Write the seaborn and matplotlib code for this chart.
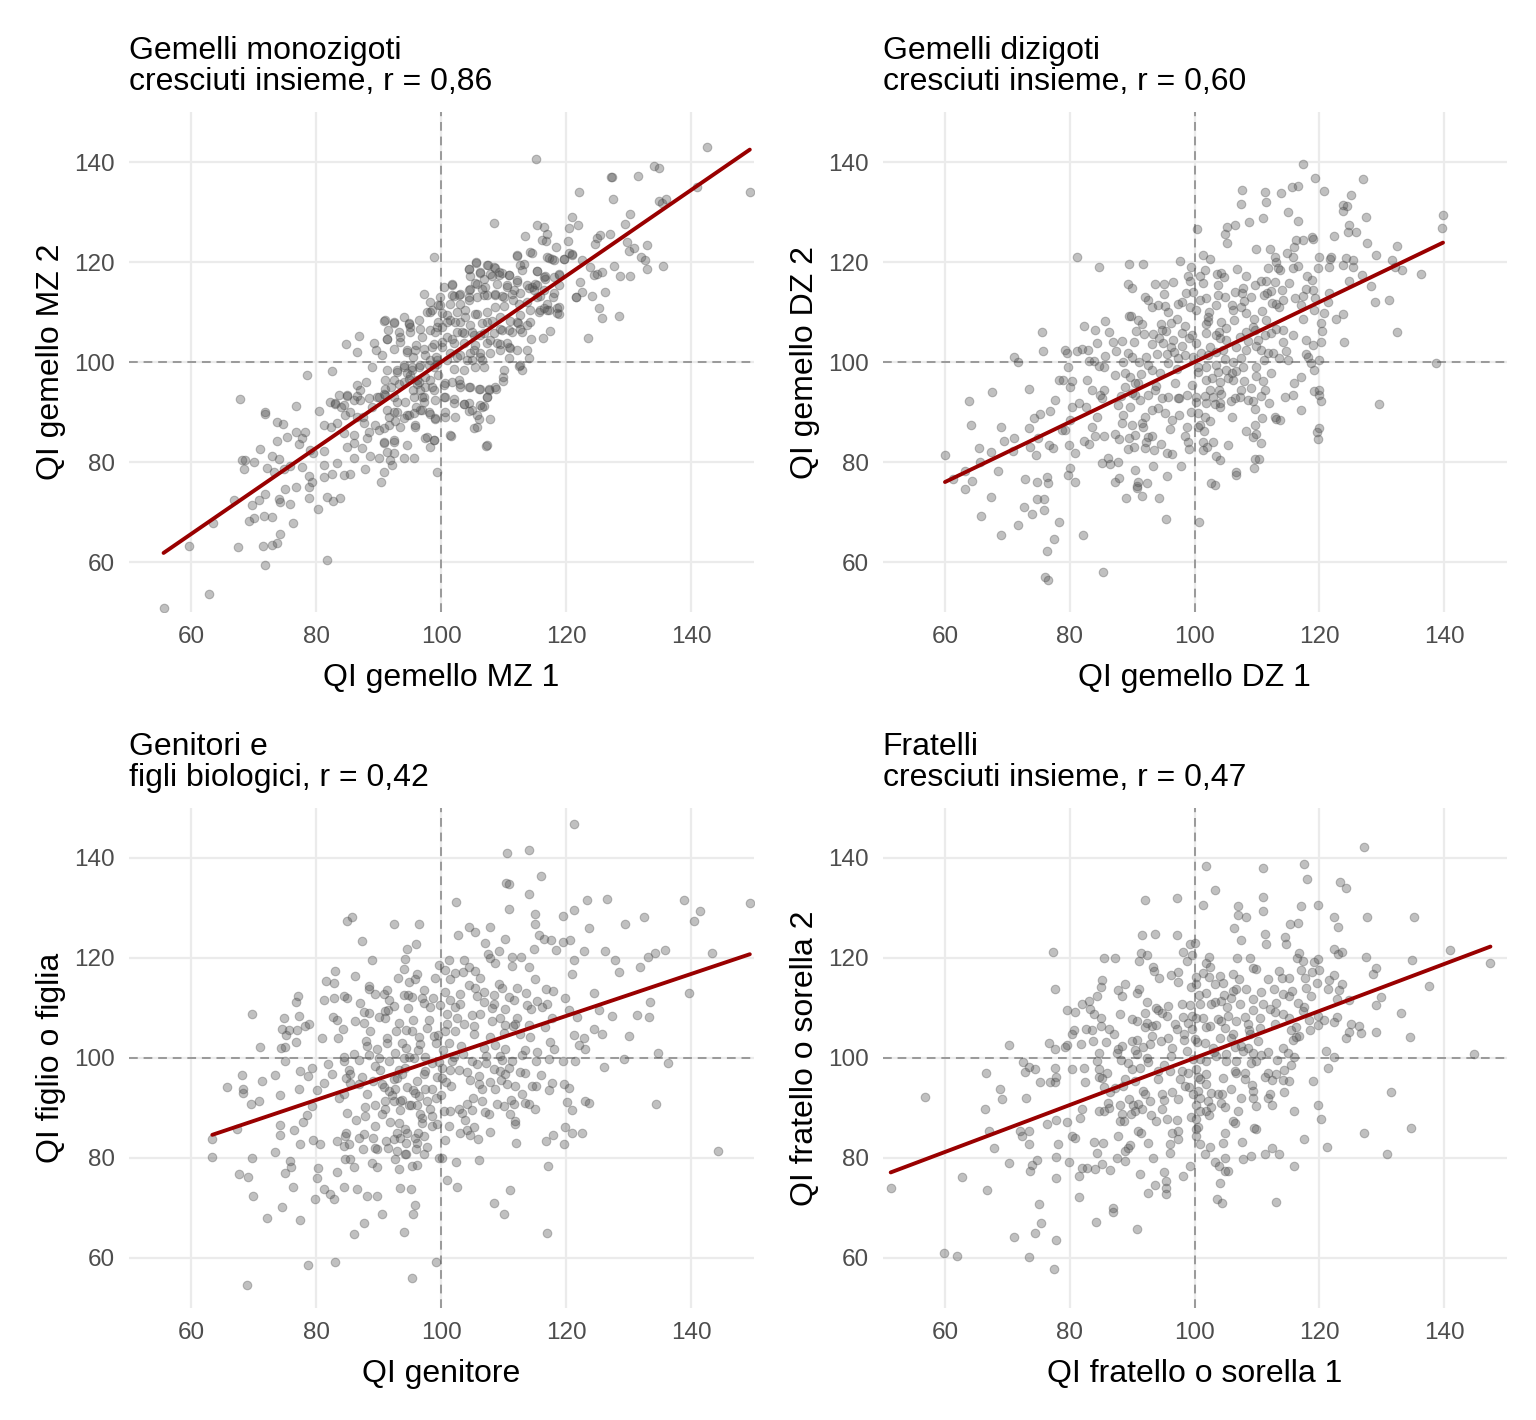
import numpy as np
import matplotlib
matplotlib.use("Agg")
import matplotlib.pyplot as plt
import seaborn as sns

sns.set_theme(style="white")
plt.rcParams['font.family'] = ['Liberation Sans', 'DejaVu Sans']

# titoli, etichette e correlazioni dei quattro pannelli
titles = ["Gemelli monozigoti\ncresciuti insieme, r = 0,86",
          "Gemelli dizigoti\ncresciuti insieme, r = 0,60",
          "Genitori e\nfigli biologici, r = 0,42",
          "Fratelli\ncresciuti insieme, r = 0,47"]
x_labels = ["QI gemello MZ 1", "QI gemello DZ 1", "QI genitore", "QI fratello o sorella 1"]
y_labels = ["QI gemello MZ 2", "QI gemello DZ 2", "QI figlio o figlia", "QI fratello o sorella 2"]
r_values = [0.86, 0.60, 0.42, 0.47]
ticks = [60, 80, 100, 120, 140]

# punti (QI 1, QI 2)
mz_pts = [
    (98.9,121.1),(97.2,113.7),(90.8,108.3),(92.4,107.8),(93.3,106.1),(94.9,107.9),(86.8,105.3),(84.8,103.7),(86.5,102),
    (89.2,103.8),(89.6,102.5),(91.4,104.7),(78.6,97.4),(82.6,98.3),(67.8,92.6),(71.8,90),(71.8,89.6),(76.8,91.3),(80.4,90.3),
    (73.7,88),(74.7,87.7),(75.4,85),(76.8,86.1),(77.8,84.8),(78.2,86),(73.8,84.3),(77.3,83.7),(71,82.6),(68.1,80.5),(68.6,80.5),
    (70,80),(68.5,78.7),(73,81.3),(74.1,80.6),(72.1,78.8),(73.3,78),(74.8,78.6),(75.8,79.3),(77.7,79.1),(79.1,82.5),(79.5,81.8),
    (81.2,82.3),(81.3,79.5),(83.3,79.8),(81.3,77.1),(82.5,77.7),(78.9,77.3),(79.4,76.1),(78.8,75),(76.8,75),(75,74.6),(71.8,73.6),
    (70.9,72.5),(69.7,71.5),(74.1,72.6),(74.2,72.1),(75.9,71.7),(78.9,72.9),(81.7,73),(82.7,72.3),(83.9,72.8),(80.3,70.7),
    (66.8,72.4),(63.5,67.9),(69.3,68.3),(70.1,68.8),(71.6,69.3),(72.9,69.1),(76.3,67.9),(74.3,65.6),(73.8,63.8),(72.9,63.4),
    (71.5,63.3),(67.5,63.1),(59.6,63.3),(71.9,59.4),(81.8,60.5),(62.9,53.7),(55.6,50.9),
    (83.6,93.5),(82.2,92.1),(83.0,91.8),(84.4,91.5),(84.9,93.3),(86.5,93.3),(87.0,92.5),(88.4,92.8),(89.7,93.1),(91.0,94.6),
    (92.4,96.5),(94.0,99.1),(94.5,97.8),(95.3,98.5),(96.1,96.5),(96.6,94.5),(97.2,93.1),(98.2,96.5),(98.8,99.1),(99.3,100.5),
    (81.3,87.5),(82.4,87.1),(83.3,87.8),(84.6,89.5),(86.5,89.1),(87.6,87.8),(89.4,87.5),(90.8,86.8),(84.4,85.8),(86.0,85.5),
    (84.9,83.1),(86.0,83.8),(87.3,82.9),(88.1,84.8),(90.8,83.9),(92.4,84.1),(94.5,83.5),(86.0,80.9),(88.6,81.3),(90.0,80.9),
    (91.3,82.1),(92.4,81.8),(91.8,80.5),(92.1,79.5),(94.0,80.8),(95.6,80.9),(87.8,78.6),(90.8,78.1),(90.4,76.1),(84.4,77.4),
    (85.5,77.7),(95.8,87.1),(97.4,84.8),(98.8,84.5),(98.2,83.1),(99.3,78.0),(99.0,88.6),(96.9,90.5),(95.6,89.8),(94.0,88.8),
    (92.7,88.3),(91.6,89.0),
    (93.5,104),(94.5,102.5),(95.5,101),(96,103.5),(97,105),(97.5,101.5),(98,99.5),(98.5,103),(99,106),(99.5,108),(96.5,99),
    (95,97.5),(94,96),(93,98.5),(92,95),(91,93.5),(93,92),(95.5,94.5),(96.5,96),(97.5,97),(98.5,95),(99,92.5),(97,93),(96,91),
    (94.5,89.5),(98,90),(99.5,97.5),(99.2,101),(97.8,110),(98.3,112),(96.5,108.5),(95,107),(94,109),(91.5,106.5),(90.5,101.5),
    (89,99),(88,96),(87,94.5),(86,92.5),(86.5,95.5),(85,93.5),(84,91),(83,91.6),(85.5,90),(87.5,89),(89,91),(90,93),(92.5,90),
    (88.5,86),(90,86.5),(98.5,110.5),(99.5,111.5),(99.8,113),
    (142.5,143.1),(115.2,140.6),(134,139.3),(134.8,138.9),(127.2,137.1),(127.3,137),(131.5,137.3),(122.1,134),(127.5,132.6),
    (134.8,132.3),(135.3,131.8),(136,132.6),(140.9,135),(149.4,134.1),(108.5,127.8),(115.3,127.5),(116.4,127.1),(116.9,125.7),
    (113.4,125.3),(116.1,124.5),(116.8,124.3),(118.4,123.1),(120.3,124.3),(120.4,126.8),(121,129),(121.9,127.5),(129.5,127.7),
    (130.3,129.6),(124.9,124.8),(125.4,125.5),(127,125.7),(124.6,123.7),(129.8,124),(130.8,122.9),(130.1,122.3),(133,123.5),
    (132,121),(132.7,120.5),(135.5,119.3),(132.9,118.6),(112.1,121.3),(114.3,122.1),(117.2,120.9),(117.7,120.6),(119.7,120.7),
    (120.5,121.9),(121,121.5),(122.6,120.5),(123.9,119.1),(124.4,117.5),(124.9,117.7),(125.7,118.1),(127.7,119.3),(128.6,117.3),
    (130.3,117.3),(122.2,116.1),(121.6,113.1),(122.5,114),(124.1,113.3),(126.3,114),(125.2,110.9),(125.8,108.8),(128.4,109.3),
    (123.5,104.9),(117.4,106.3),(116.3,104.9),(114.4,104.6),(114.2,108.1),(112.6,109.5),(112.3,107.9),(118.6,110.9),(118.6,109.8),
    (115.7,110.1),(116.5,110.9),(116.9,110.5),(118,113.8),(117.9,113.1),(118.8,115.5),(118.9,117.5),(115.3,118.3),(116.4,117.1),
    (116.6,116.7),(114.5,115.1),(115.3,115.5),(114.1,114.8),(115.8,113.3),(114,100.8),(112.9,98.5),(112.5,99.3),(110,98.5),
    (109.9,96.3),(108.8,94.7),(107.6,94.5),(107.3,93.1),(106.2,94.7),(106.8,91.3),(106.5,91.1),(105.7,89.5),(106.1,88.7),
    (107.9,88.7),(105.3,86.9),(101.6,85.3),(107.2,83.3),(104.5,90.3),(103.6,91.6),(104.4,91.9),(102,91.8),(100.6,90.1),(103.1,95),
    (104.6,95.1),(102.8,96.5),(103.6,98.5),(102,98.6),(100.6,95.9),(100.6,93.1),
    (105.6,119.9),(104.5,118.7),(104.6,117.3),(106.2,117.8),(107.5,119.5),(108.4,119),(109.2,118.1),(109.7,117.9),(110.9,117.5),
    (108.1,117.3),(106.8,116.7),(105.4,115.8),(106.5,114.7),(104.6,114.7),(101.8,115.5),(100.4,115.1),(102.1,113.3),(102.8,113.5),
    (104.5,113.1),(106.8,113.5),(108.6,113.5),(109.7,113.3),(110.5,115.1),(111.6,114.5),(112.6,113.8),(112.9,118.5),(112.6,119.5),
    (112.1,116.5),(111.5,112.5),(110,111.3),(108.6,111.1),(107.3,110.1),(105.4,109.6),(103.8,110.5),(102.5,110.1),(100.9,109.5),
    (101.4,108.5),(103,108.1),(104.6,107.5),(106.5,107.8),(108.1,108.3),(109.4,109),(111,108.3),(112.6,106.6),(111.3,106.1),
    (109.7,106.5),(108.4,105.8),(106.8,105.8),(105.2,105.5),(103.6,105.8),(102.5,106),(100.9,105.1),(102,103.8),(103.6,103.8),
    (105.4,103.5),(107.3,103.8),(108.9,103.8),(110.5,103.8),(111,102.8),(109.4,102.5),(107.8,101.8),(106.2,101.8),(104.6,101.8),
    (103,101.5),(101.4,101.8),(100.1,103.1),(104.9,100.5),(106.5,100.5),(110.8,100.8),(105.4,99),(100.1,109.8),(100.1,107.1),
    (105.6,120.1),(107.4,119.4),(108.6,118.9),(104.5,118.7),(106.2,118.1),(107.8,117.7),(109.2,117.4),(110.8,117.4),(112.1,121.4),
    (114.5,121.9),(117,121.1),(118,120.5),(119.6,120.7),(120.9,121.6),(113.2,119.7),(115.3,118.3),(116.6,117.2),(118,117.1),
    (118.9,117.6),(112.1,116.1),(113.7,115.4),(115,115.7),(114.9,114.5),(116.4,114.5),(115.3,113.1),(113.7,112.1),(112.4,111.7),
    (116.9,111.7),(118.8,111.1),(118.8,109.7),(117.2,110.4),(115.8,110.4),(114.2,110.4),(121.6,113.1),(110.5,115.4),(108.9,115.7),
    (107,115.1),(105.7,115.7),(104.4,114.4),(103,113.7),(101.7,115.7),(101.7,113.4),(99.8,111.4),(98.2,110.1),(101.4,111.7),
    (103,111.7),(104.4,112.4),(105.7,113.1),(107.3,113.4),(108.6,113.7),(110,113.1),(111.3,113.7),(112.1,108.1),(113.7,107.4),
    (112.9,106.1),(110.8,106.4),(109.4,106.7),(107.3,108.1),(105.7,109.7),(103.8,109.1),(102.2,108.1),(100.9,108.1),(99.3,107.1),
    (98.2,106.4),(96.6,106.7),(94.8,107.7),(92.4,108.1),(91,108.4),(95,106.1),(93.4,105.1),(91.3,104.7),(92.4,102.7),(94.5,102.1),
    (95.8,102.4),(97.2,102.7),(98.8,103.7),(100.1,104.1),(101.7,104.7),(103.3,106.1),(104.9,106.1),(106.2,105.4),(107.8,104.4),
    (109.4,103.7),(110.8,103.1),(112.1,102.4),(113.7,102.4),(105.2,102.4),(106.2,101.1),(106.8,99.1),(104.1,100.4),(102.5,101.1),
    (100.9,100.4),(99.3,99.7),(98.2,100.4),(96.6,99.4),(95.3,99.1),(94,99.4),(92.9,98.1),(91.3,98.4),(91,96.4),(93.2,95.7),
    (94.8,96.7),(96.1,95.7),(97.4,95.1),(98.8,94.4),(100.4,95.4),(101.7,96.1),(103,95.7),(104.4,95.1),(106,94.7),(107.6,94.7),
    (108.6,95.1),(109.9,97.1),(112.6,99.4),(100.4,93.1),(102,92.7),(103.6,91.7),(104.9,90.4),(106.2,91.4),(107.3,93.1),(95.6,93.1),
    (94.2,92.1),(97.2,92.1),(92.4,93.1),(90.8,93.7),(91.3,90.4),(92.9,90.1),(94.8,89.4),(96.6,90.4),(98.2,89.7),(99,88.8),
    (100.6,89.1),(102.2,89.1),(91.6,87.4),(93.4,87.1),(95.8,87.4),(97.7,85.1),(92.4,84.4),(90.8,84.1),(98.8,84.4),(101.4,85.4),
    (105.7,87.1),(107.3,83.4),
]

dz_pts = [
    (81.2,121.1),(84.6,119.1),(89.5,119.6),(91.8,119.7),(97.7,120.3),(99.4,119.1),(98.9,117.3),(89.3,115.7),(90,114.8),(93.6,115.6),
    (95.1,115.6),(96.6,116.1),(92.1,113.1),(92.5,112.5),(95.1,113.6),(93.1,111.1),(94.2,111.5),(95.3,111.3),(95.7,110.1),(97.4,111.7),
    (97.9,112.1),(99.3,111.1),(89.5,109.3),(89.8,109.3),(91,108.5),(91.5,107.7),(90.6,106.3),(91.9,105.7),(93.4,105.7),(94.7,106.5),
    (94.6,107.7),(96.2,107.9),(97.1,108.6),(98.5,107.3),(99.1,104.8),(95,103.8),(96.2,103.1),(96.7,102.1),(97.9,103.3),(95.5,101.7),
    (93.9,101.7),(97.4,100.8),(82.3,107.3),(84.1,106.5),(85.6,108.3),(86.2,106.1),(87,104.1),(88.3,104.3),(84.3,103.8),(87.4,102.3),
    (85.7,101.3),(90.3,104.1),(89.4,101.9),(89.9,101.1),(88.6,100.1),(91.1,100.1),(92.6,99.5),(93.1,98.5),(94.4,97.8),(95.8,99.8),
    (75.6,106.1),(75.7,102.2),(71.1,101.1),(71.7,100.1),(79.2,102.5),(79.5,101.8),(79.7,99.1),(81.2,102.3),(81.9,102.6),(82.9,102.5),
    (83.1,100.3),(83.9,100.3),(84.6,99.3),(85.4,99.1),(88.8,97.8),(89.6,97.1),(90.4,95.9),(91,95.9),(82.7,96.5),(83.6,94.5),
    (84.8,93.5),(85.4,94.5),(85.1,92.8),(88.8,95.1),(89.9,93.8),(91.2,92.5),(92.6,93.5),(93.6,94.5),(94.7,92.8),(95.8,93),
    (97.4,92.8),(95.2,89.8),(96.3,88.5),(93.1,90.5),(94.2,90.8),(92,89.1),(91.5,87.8),(91.8,87.1),(90,87.5),(88.6,89.5),
    (88.3,87.8),(89.6,91.1),(87.8,91.5),(78.2,96.5),(78.9,96.5),(80.3,96.3),(80,95),(73.5,94.6),(67.5,94.1),(63.8,92.3),
    (64.1,87.5),(68.9,87),(77.6,92.5),(76.9,90.3),(75.3,89.7),(74.2,88.9),(73.5,86.8),(69.5,84.3),(71.1,84.8),(74.9,84.8),
    (65.5,82.8),(67.3,82.1),(70.9,82.3),(73.6,83.1),(74.6,81.5),(76.7,83.5),(77.3,82.8),(80.3,91),(81.5,91.9),(82.6,91.1),
    (84.3,89.1),(83.5,87),(80,88.5),(78.7,86.5),(79.2,86.5),(79.9,83.5),(80.8,81.9),(82.3,84.3),(83,83.7),(84.1,85.3),
    (85.4,85.3),(87.2,85.7),(87.9,84.6),(89.5,84.8),(90.4,85.5),(92.2,84.1),(92.6,85),(93.1,85.3),(90.3,83.1),(92.1,82.8),
    (93.5,82.5),(94.6,83.7),(95.5,81.9),(96.4,81.7),(89.3,82.7),(60,81.5),(63.2,78.3),(64.4,76.3),(63.2,74.6),(61.3,76.6),
    (65.6,80.1),(68.5,78.3),(67.3,73.1),(65.7,69.3),(69,65.5),(71.7,67.5),(72.7,71),(72.9,76.7),(73.9,69.6),(74.7,76.1),
    (74.8,72.7),(75.9,72.7),(75.9,70.5),(76.4,77),(76.5,75.8),(78.3,68),(77.4,64.6),(76.3,62.3),(76,57.1),(76.5,56.5),
    (79.7,77.5),(80.1,78.8),(80.9,76.1),(82.1,65.5),(85.3,58),(85.1,79.8),(86.4,79.6),(87.7,80.1),(86.1,80.8),(87.2,76),
    (87.9,76.9),(89,72.8),(90.4,78.5),(90.7,75.3),(90.9,76.1),(90.7,74.8),(91.5,73.3),(92.4,75.8),(93.3,79.3),(94.3,72.9),
    (95.5,77.3),(95.4,68.6),(97.8,79.3),(98.7,87.1),(99,84.1),(98.5,85.3),(97.5,92.8),
    (117.4,139.7),(119.3,136.8),(127,136.6),(107.6,134.5),(111.3,134.1),(113.9,133.8),(115.6,135),(116.6,135.3),(120.7,134.2),
    (125.1,133.4),(107.5,131.7),(111.4,132),(123.7,131.4),(124.4,131.3),(123.8,130.3),(115,130.1),(116.5,128.3),(108.7,128.1),
    (110.9,128.9),(127.4,129.1),(105.2,127),(106.4,127.4),(104.9,125.7),(124.7,127.4),(124.5,126),(125.8,126.1),(100.4,126.7),
    (105.2,123.8),(116.3,124.4),(117.4,124.4),(118.8,125.1),(118.9,124.6),(122.3,125.3),(127.6,123.8),(139.8,129.5),(139.7,126.9),
    (109.8,122.7),(112.1,122.7),(116,123.1),(132.5,123.3),(102.5,120.6),(112.8,121),(113.1,120),(115.8,121),(120,121.1),
    (121.8,121.1),(121.7,120.7),(124.3,120.8),(125.4,120.5),(129.1,121.5),(131.7,120.5),(111.7,118.8),(113.3,118.8),(115.7,118.9),
    (116.6,119.3),(119.8,118.8),(121.6,119.1),(123.8,119.5),(125.3,119.1),(132.1,119),(133.2,118.5),(136.3,117.7),(101.6,118.5),
    (103.6,117.7),(104.3,117.8),(104.7,117),(106.8,118.7),(108.3,117.3),(110.6,116.3),(111.4,116.3),(109.6,115.5),(112.9,116),
    (115.1,115.9),(118,117.3),(118.8,116.5),(126.8,117.5),(124.8,116.3),(128.3,115.3),(101.3,115.8),(103.7,115.5),(107.7,114.9),
    (114,114.5),(106.4,114.1),(107.6,113.8),(109.1,113),(111.1,113.5),(111.6,113.8),(117.8,114.6),(119,114.5),(101.9,112.9),
    (103.7,113.5),(104.9,113.1),(117.4,113.3),(116.1,112.8),(114.2,112.5),(119.3,112.8),(121.6,113.8),(121.3,112.1),(128.9,112),
    (131.1,112.5),(103.4,111.5),(106,111.5),(107.5,111.1),(112.4,111.8),(113,111.6),(113.6,111),(117.1,111.5),(120.7,109.8),
    (123.8,109.7),(122.6,108.7),(102.3,110.1),(108.3,109.8),(102.1,109),(104.3,108.1),(106.3,108.5),(109.5,108.6),(111.5,108.5),
    (113.1,106.6),(114.2,106.5),(120.3,107.8),(120.4,106.3),(132.4,106.1),(101.8,107.7),(101.9,105.8),(103.9,106.1),(105.1,106.8),
    (108.3,106.1),(109.4,107.1),(111.2,105.5),(112.3,105.8),(104,104.8),(107.2,105),(100.3,103.8),(102.4,103.1),(105.1,104.5),
    (106.7,103.1),(109.8,103.3),(114.1,104.1),(117.8,104.5),(119,103.5),(120.3,104.1),(123.9,104),(108.2,102.5),(110.7,102.5),
    (111.8,101.9),(114.7,102.3),(117.9,101.7),(118.2,101.1),(101.1,101.8),(103.5,102.1),(104.8,100.6),(106.2,100.1),(107.8,99.1),
    (109.8,99.1),(111.1,100.5),(113.5,100.8),(115,100.5),(118.7,99.9),(119.9,100.5),(119.2,98.5),(138.6,99.9),(100.5,99.1),
    (101.9,99.1),(103.7,98.1),(105.1,98.5),(106,97.8),(109.9,97.3),(112.3,97.8),(117.1,97),(115.9,95.9),(101.9,96.5),(102.8,96.8),
    (104,96.1),(106.2,96.5),(107.9,96.3),(102.4,94.5),(103.9,94.5),(107.5,94.5),(109.1,94.9),(111.2,94.5),(119.2,94.3),(120,94.5),
    (100.3,93.1),(101.6,93.3),(102.9,93.1),(106.4,92.8),(107.2,93.1),(110.7,93.3),(114.5,93.1),(115.7,93.5),(120,93.5),(120.2,92.3),
    (101.8,91.8),(104.1,91.8),(109.3,92.3),(111.9,91.8),(129.5,91.6),(100.5,89.8),(101.6,89),(104,91.1),(106,89.1),(109.6,90.6),
    (110.8,88.8),(112.8,89),(113.1,88.7),(113.7,88.5),(117,90.5),(100.5,87.1),(108.2,86.3),(109.6,87.5),(109.9,85.6),(109.3,85),
    (119.9,86.8),(119.6,86.1),(119.8,84.6),(101.3,84.1),(102.9,84.1),(102,83.1),(101.3,82.5),(105.3,83.5),(110.7,83.8),(103.5,81.3),
    (104.1,80.5),(109.6,80.7),(110.3,80.7),(109.5,78.8),(106.6,78.1),(106.7,77.5),(102.7,75.8),(103.2,75.5),(100.7,68.1),
    (99.5,105.5),(100.2,110.5),(100.8,112.5),(99.8,101),(100.5,98),(99.6,95.5),(100.2,92),(99.4,90),(100.8,87.5),(99.7,114),
    (100.9,117.2),(101.4,121.5),(99.2,116.3),(98.6,113.8),(98,105.8),(98.4,101.5),(97.2,98.7),(96.8,95.8),(98.8,93.5),(97.5,89.5),
    (96,86.7),(99.1,82.6),(101.5,86.3),(102.5,88.2),(103.2,91.7),(104.3,93.6),(105.4,96.8),(106.7,98.2),(107.5,100.8),(108.5,104.2),
    (109.7,106.4),(110.8,110.2),(112.3,114.3),(113.7,118.5),(114.8,121.8),(104.5,102.5),(103.5,105.5),(102.2,108.2),(106.2,110.4),
    (107.9,112.3),(103.5,99.5),(102.1,101.5),(105.8,92.3),(108.5,92.5),(111,96.2),(112.5,101.8),(110.2,104.5),(115.8,105.4),
    (117.3,108.6),(119.2,110.5),(96.5,104.5),(95.4,106.2),(94.3,104.9),(93.2,103.6),(92.2,101.1),(91.4,97.6),(93.8,95.2),(90.5,93.4),
    (88.2,93.3),(87.2,97.4),
]

pg_pts = [
    (84.9,127.3),(85.8,128.1),(92.5,126.7),(96.4,126.7),(87.4,123.3),(96,122.7),(94.6,121.7),(88.9,119.5),(94.3,119.7),(94.1,117.8),
    (83.1,117.3),(86.3,116.3),(81.6,115.3),(82.9,115),(93.1,115.9),(94.9,115.2),(96.2,116.7),(95.8,115.7),(88.4,114.3),(88.4,113.8),
    (91.3,113.5),(99.1,116),(77.1,112.3),(76.8,111.2),(81.2,111.5),(82.8,112),(84.4,112.3),(84.9,111.9),(89.4,112.7),(90.9,112.7),
    (91.7,111.5),(92.5,110.3),(94.7,110),(94,112.5),(95.3,112.1),(97,111.9),(97.2,111),(98.3,110.1),(98.7,112),(87,111),
    (87.6,109.2),(88.4,109),(90,108.1),(91,109.3),(91.5,109.5),(91,107.9),(83.4,107.6),(82.7,108.1),(86.2,107.3),(87.6,107),
    (69.7,108.7),(74.8,107.9),(77.2,108.3),(78.2,106.3),(78.8,106.8),(74.5,105.7),(75.2,104.5),(75.7,105.5),(76.9,105.5),(76.8,103.1),
    (80.9,104),(83.5,103.9),(84.3,105.7),(88.7,105.3),(92.8,105.3),(93.3,107),(95.5,107.5),(94.4,105.5),(95.3,105.3),(97.7,106),
    (96.5,104.1),(98.8,104.3),(91.4,104),(91.4,103),(93.7,103),(94.4,102),(96.6,102.8),(88,103.3),(99.2,103),(71,102.1),
    (74.4,102),(75,102.1),(75.1,99.3),(86,100.7),(84.5,100.1),(88.4,100.5),(90,99.9),(89.5,98.3),(92.7,101),(94,100),
    (94.9,100.1),(95.7,100),(84.4,99.3),(81.9,98.7),(79.3,98),(77.5,97.3),(78.7,96.3),(82.5,96.7),(85.2,97.5),(85.5,96.7),
    (84.8,95.9),(81.3,95),(85.4,95),(86.8,94.7),(90.5,94.7),(90.9,94.1),(92.4,95.8),(92.9,96),(93.7,96.7),(94.2,98),
    (97.2,96.7),(97.4,97.3),(96.2,95.3),(68.2,96.5),(73.4,96.5),(71.3,95.3),(65.7,94.2),(68.3,93.8),(68.3,93),(69.6,90.8),
    (70.8,91.3),(74.2,92.5),(77.3,93.7),(80.2,93.5),(83.6,92),(84.4,92.7),(88.2,92.7),(91.7,93.3),(92.1,92.5),(93.8,91.5),
    (95.5,93.5),(95.9,93),(97.4,93.7),(98.5,93.7),(99.2,92),(79.3,90.3),(87.9,90.1),(89.4,90.5),(91.1,91.3),(92.4,91.3),
    (93.4,91.3),(91,89.8),(90.5,88.8),(93.5,89.5),(94.8,90.5),(96.1,90.5),(98.2,89.7),(78.6,88.5),(77.9,87.2),(76.5,85.5),
    (74.3,86.5),(74.3,84.5),(67.4,85.8),(63.4,83.7),(85,88.9),(86.4,87.5),(87.8,88.3),(93.3,86.9),(94.2,85.7),(94.6,85),
    (96.9,87),(97,88),(98.5,86.3),(99.3,86.7),(96.3,85),(95.8,84),(97.3,84.3),(96.1,83),(96,81.7),(94.4,80.7),
    (94.4,83),(93.5,84),(92.9,85),(92.4,83.7),(91.2,83.3),(91.5,81.9),(89.4,81.9),(89.7,81.7),(89.1,84),(87.6,84.7),
    (86.8,84),(87.5,81.7),(85.3,82.7),(84.4,82.3),(84.8,85),(84.6,84.3),(83.4,83.3),(80.7,82.8),(79.5,83.5),(77.5,82.7),
    (73.5,81.2),(69.7,79.9),(63.4,80.2),(75.8,79.3),(76,78.1),(75.1,76.9),(80.3,77.9),(80.2,75.9),(76.3,74.1),(81.3,73.8),
    (82.2,72.7),(82.8,71.7),(79.9,71.8),(83.4,77.2),(84.6,79.7),(85.4,79.7),(86,78.2),(89,79),(89.8,78.1),(92.6,79.7),
    (93.2,77.7),(94.2,80.7),(95.4,78.3),(96.2,78.5),(97.2,80.7),(99.7,80),(84.5,74.2),(86.5,73.8),(88.2,72.3),(89.7,72.3),
    (93.5,74),(95.2,73.8),(95.8,70.5),(95.5,68.7),(90.5,68.7),(87.6,66.9),(86,64.8),(94,65.2),(67.6,76.7),(69.1,76.1),
    (69.9,72.4),(74.6,70.2),(72.2,68),(77.5,67.5),(78.7,58.5),(83,59.1),(68.9,54.5),(95.3,56),(99.2,59.1),
    (121.2,146.8),(110.5,140.9),(114.1,141.5),(116,136.4),(110.4,135),(110.9,134.7),(114,132.7),(102.4,131.1),(110.8,129.7),
    (115,128.8),(115,126.8),(123.3,131.5),(126.5,131.7),(138.9,131.5),(141.5,129.3),(140.4,127.3),(149.4,130.9),(119.5,128.3),
    (121.2,129.5),(123.6,126),(129.5,126.7),(132.4,128.1),(104.5,126.2),(105.5,125.2),(107.8,126.2),(102.7,124.5),(107.1,123),
    (110.2,123.8),(115.7,124.5),(116.5,123.7),(117.6,123.6),(119.5,123.1),(120.6,123.6),(118.4,121.5),(114.9,121.7),(109.3,121.3),
    (122.8,121.3),(126.2,121.3),(135.9,121.5),(134.2,121),(133.1,120.1),(143.4,121),(107.5,120.7),(107.9,120),(108.7,118.9),
    (111.4,120.1),(112.8,120.2),(111.3,118.3),(114.1,118.1),(121.3,119.5),(120.9,116.8),(127.9,119.5),(128.5,117.1),(131.8,118.2),
    (101.2,119.5),(103.6,119.5),(100.6,117.5),(102.2,116.9),(104.5,118.1),(105.5,117.3),(106.3,115.9),(101.4,115.7),(115,115.8),
    (139.6,112.9),(104.4,114.5),(105.4,114),(106.8,113.1),(108.4,112.5),(109.2,114.8),(109.7,114),(112.2,114),(113.6,113),
    (116.8,113.7),(117.9,113.3),(110.9,112.1),(111.7,111.5),(119.9,111.9),(124.5,112.9),(133.4,111.1),(103.1,112.7),(102.2,110.1),
    (103,110.7),(106.8,111.1),(108.4,110.7),(110.2,109.7),(112.1,107.9),(113.7,110.5),(114.4,109.8),(115.4,111.3),(116.1,110.1),
    (116.9,110.7),(120.5,109.5),(121.7,108.2),(125.2,109.5),(127.3,108.3),(131.3,108.5),(133.3,108.2),(101,108.7),(102.5,108),
    (104.9,108.5),(106.2,108.7),(108.1,107.3),(109.4,108),(110.2,106.5),(111.8,106.7),(114,106.5),(116.6,106.2),(117.8,107.9),
    (105.2,106.3),(100.9,106.7),(100.6,105.3),(105.2,104.8),(107.8,104.1),(110,105),(112.6,104.7),(124.5,105.7),(125.8,104.8),
    (130.1,104.3),(121.2,104.5),(122.9,104),(122.1,102.5),(123.1,101.7),(117.5,103.2),(101.2,103),(103.5,100.7),(106.8,102),
    (108.6,102.5),(110.2,101.7),(113.5,101.5),(115.3,101.1),(112.9,100.5),(109.4,100.3),(104.9,99.3),(101.7,99.3),(105.7,98.7),
    (107.2,98.9),(109.7,99.5),(111.3,99.3),(115.2,99.3),(117.3,99.7),(119.5,99.3),(121.4,99.3),(129.3,99.7),(134.7,101),
    (136.3,99),(126,98.1),(100.1,98),(101.4,97.5),(102.8,97.5),(109.4,97.3),(110.9,97.9),(112.6,97.1),(113.4,96.9),(110.3,96.7),
    (100.1,96),(104.6,95.5),(106,94.8),(106.5,93.8),(107.8,95.2),(110.5,94.7),(111.8,94.4),(114.5,94.4),(115.2,94.3),(117.7,95),
    (117.3,93.5),(119.7,94.8),(120.5,93.9),(101.6,94.3),(100,92.5),(105.1,91.9),(111.2,91.5),(113.4,91),(114.1,90.7),(115,89.7),
    (120.2,91.2),(121,89.6),(123,91.3),(123.6,90.9),(134.4,90.7),(100.4,89.3),(101.4,89.3),(102.8,89.7),(103.4,88.9),(104.9,89.5),
    (104.1,90.7),(107,89.1),(107.7,88.7),(108.9,90.7),(110,90.3),(111.6,90.8),(111.8,87.3),(111.8,86.7),(103,85),(104.1,85.5),
    (104.6,84.5),(105.9,83.7),(112,83),(116.8,83.3),(117.9,84.5),(119.7,82.7),(119.8,86.2),(120.9,84.9),(122.6,85),(100.1,80),
    (106.1,79.5),(117.1,78.3),(144.3,81.3),(100.9,75.5),(102.5,74.1),(111,73.5),(108.4,71),(110,68.7),(116.9,64.9),
    (99.5,104.5),(100.3,101.5),(99.6,99.2),(100.8,95.2),(99.3,96.2),(98.5,98.9),(97.4,100.2),(96.3,101.5),(98.1,107.6),(99.8,110.6),
    (100.6,113.2),(99.6,118.6),(101.5,111.5),(102.3,105.4),(103.6,106.8),(103.2,102.3),(102.1,100.2),(104.2,97.1),(106.1,96.3),
    (107.2,100.4),(108.4,97.8),(109.6,95.6),(108.7,93.7),(106.6,91.3),(103.9,87.6),(101.2,86.4),(98.6,88.3),(97.8,91.4),(96.4,92.3),
    (94.6,94.2),(93.2,97.5),(91.6,99.4),(89.8,101.7),(88.1,102.4),(86.8,99.6),(87.3,96.2),(89.1,95.4),(90.2,97.5),(92.7,93.8),
    (95.2,90.6),(96.7,88.8),(91.8,87.2),(89.5,86.4),(93,81.3),(97.8,82.2),(100.7,83.6),(102.4,79.1),(105.2,86.2),(107.8,85.1),
    (111,88.8),(113,92.8),(116,96.5),(118,101.8),(114.2,104.2),(111.5,106.3),(108.2,110),(105.8,112.3),(103.5,117.2),(97.2,113.5),
    (94.7,112.5),
]

fr_pts = [
    (92,131.5),(97.2,131.9),(91.6,124.6),(93.6,124.7),(97.2,124.5),(99.3,122.7),(77.3,121.2),(85.4,119.9),(87.3,119.9),(91.4,121),
    (92.3,120.5),(91.1,119.3),(98.1,121.1),(98.8,119.3),(93.4,118.1),(93.5,117.3),(94.3,116),(96.2,116.5),(97.4,117.1),(97.4,115.2),
    (85.2,115.6),(85,114.1),(88.8,114.7),(87.7,113.5),(88.4,112.3),(90.7,112.9),(91.1,113.7),(77.7,113.7),(84.4,112.3),(79.5,109.5),
    (80.9,109.2),(82,110.7),(83.1,111.3),(83.2,109.7),(83.9,108.7),(85,107.9),(88,108.7),(92.4,111.2),(93.8,110),(94.2,109.5),
    (94.7,108.9),(95.8,110.3),(95.5,108.3),(97.9,110.8),(99.4,114.2),(92,109),(89.9,107.7),(90.7,107.3),(92.3,107),(93.1,106.3),
    (93.8,106.5),(96.8,106.7),(98.2,108.1),(98.9,107),(99.5,108.3),(80.6,105.5),(80.4,104.8),(82.6,105.7),(83.5,105.5),(83.7,103.3),
    (85,106.3),(86.2,105.8),(81.8,102.7),(70.3,102.5),(76.7,102.9),(77.6,101.7),(79.2,102.2),(79.6,102.5),(89.9,103.3),(90.7,103.5),
    (87.8,101.7),(88.4,102.3),(90.4,101.5),(91.8,102.1),(92.8,102.7),(94.6,103.3),(95.8,104),(96.3,102),(98.3,104.7),(98.7,101.3),
    (84.7,101),(87.5,101),(92.4,99.9),(92.6,99.2),(91.2,98),(94.2,97.3),(96.1,97.3),(97.9,97.3),(99,97),(72.5,99.1),
    (73.4,98.2),(74.5,97.7),(72.8,97.1),(66.6,96.9),(75.2,95.2),(76.8,95.2),(77.7,98),(77.8,96.1),(77.6,95.2),(80.4,97.8),
    (82.3,97.9),(82.5,95.2),(84.4,99.3),(84.6,96.1),(85.2,95.9),(86,96.9),(85.5,94.1),(87.2,94),(88.6,94.3),(89.9,97.7),
    (90.4,95.3),(88.8,95.7),(91.8,93.3),(92,92.7),(92.8,91.3),(94.8,92.8),(95.1,91.5),(97.4,91.8),(98.5,94.3),(99.8,92.7),
    (68.8,93.8),(69.2,91.8),(73,92),(56.8,92.2),(66.4,89.7),(81.9,89.7),(84.7,89.3),(85.4,89.3),(86.1,91),(86.3,90),
    (88.1,90.5),(90.2,90.5),(91,90.8),(91.5,89.7),(90.5,89.3),(89.8,88.8),(88.3,88.7),(88,87.3),(88.7,87.3),(81.6,87.9),
    (79.5,87.2),(77.8,87.5),(76.4,86.7),(67,85.3),(72,85.3),(72.4,84.3),(73.4,85.3),(73.5,82.7),(67.8,81.9),(80.3,84.3),
    (80.8,84),(78.1,82.7),(77.8,80.2),(79.8,79.1),(74.8,79.5),(73.9,78.5),(73.6,77.3),(70.2,79),(83.9,83.1),(85.3,83),
    (84.4,81),(87.8,84.3),(89.6,82.5),(89.4,81.9),(88.9,81.3),(90.9,85.3),(91.4,85),(92.6,82.9),(93.8,87.3),(94.7,89.7),
    (95.5,87.7),(96.3,85),(97.4,85.3),(97.4,83.7),(96.1,82.7),(96,81),(93.4,79.9),(87.5,80),(88.9,79.3),(85.1,78.8),
    (84.1,77.7),(82.8,77.9),(81.9,78),(81.4,76.3),(86.4,77.5),(91.2,76.7),(95.1,77.1),(98.1,76.3),(99.3,78.3),(93.6,74.5),
    (92.6,72.9),(95.4,75.3),(95.4,74),(95.4,72.7),(77.8,76),(81.4,72.2),(86.9,70),(86.9,69.1),(84.2,67.2),(90.8,65.8),
    (75,70.7),(75.4,67),(74.4,65),(71.1,64.2),(77.8,63.5),(73.5,60.1),(77.4,57.8),(59.9,60.9),(61.9,60.3),(62.7,76.1),
    (66.7,73.5),(51.3,74),
    (127.2,142.2),(101.9,138.3),(110.9,137.9),(117.5,138.8),(118,135.8),(123.3,135.1),(124.3,134),(103.2,133.5),(111,132.1),
    (101.4,130.5),(107,130.3),(117.1,130.3),(119.7,130.5),(107,128.5),(108.3,128.2),(110.9,129.4),(122.4,128.2),(127.7,128.2),
    (135.1,128.2),(106.3,125.9),(115.3,126.7),(116.5,126.9),(123,126.1),(107.5,123.6),(111.2,124.8),(111.5,122.7),(114.5,124.2),
    (114.7,122.7),(100,123),(122.4,121.7),(123.6,121.1),(123,120.7),(116.8,120.9),(127.5,120.2),(134.9,119.6),(141,121.5),
    (147.4,118.9),(102.3,120.1),(106.8,120),(108.8,120),(101.9,118.9),(102.4,118.2),(109.4,118),(109.9,117.8),(116.4,119.9),
    (117.4,119.3),(119.1,119.2),(119.8,119.7),(120,117.5),(117.1,117.5),(118.8,117.1),(129,118),(128.6,116.7),(113.5,117.3),
    (101.3,117),(102.3,116.1),(104.1,116.3),(106.2,116.7),(107.1,115.8),(111.7,115.8),(114,115.9),(115.2,115.9),(117.7,116),
    (119.6,115),(121.6,115.5),(122.3,116.5),(123.6,114.8),(100.3,114.7),(103.3,114.8),(104.5,115),(101.9,113),(106.2,113.3),
    (106.6,113.7),(108.2,113.7),(110.6,113.2),(112.7,113.7),(114.1,112.7),(115.6,113.3),(117.8,114),(121.4,113.7),(123.2,113.5),
    (137.6,114.3),(129.8,112.2),(124.7,111.5),(122.8,111.7),(100.8,110.7),(103.2,111.1),(104.3,111.3),(105.9,112),(107.2,110.8),
    (109.3,111.7),(110.9,110.7),(113.1,111),(115.2,112.3),(116.6,111),(117.4,109.3),(129,110.5),(133.1,108.9),(100.3,108),
    (101.3,108),(103.7,107.8),(105.3,108.3),(106.7,107.3),(108,108.1),(109.4,109.5),(110.4,107.9),(112.1,109.7),(112.8,109.2),
    (115.2,108),(118.3,107.5),(119.8,108.3),(120.8,107.5),(122.8,108.2),(122.4,107.2),(101.9,106.1),(104.9,106),(108.6,106.7),
    (110.4,106),(115.4,105.5),(118.5,105.5),(119.8,106.5),(125.1,106.7),(126.4,106.3),(126.7,104.9),(124.7,105.2),(124.2,104),
    (129,105.1),(134.5,104.1),(100,103.7),(101.6,103),(104,104),(105.9,104),(108.8,104.7),(114.1,102),(115.7,103.5),(116.3,104.1),
    (116.7,104.3),(102.9,102),(106.4,102.1),(107.8,101.3),(108.6,102),(109.4,101),(110.7,100.5),(115,101),(115.9,100.1),
    (121.1,101.3),(122.4,100.2),(144.7,100.7),(100.8,99.7),(103.5,100.3),(105.1,99.3),(106.7,99.3),(109.1,99),(109.9,99.3),
    (115.5,98.5),(121.3,98),(100.3,97.7),(101.8,96.7),(106.7,96.9),(108,96.9),(111.8,97),(113,96.7),(114.3,97.5),(100.8,95.7),
    (104.5,95.9),(108,95.8),(112.4,95.5),(114.2,95.5),(115.2,95.3),(118.9,95.3),(101.8,94.7),(109.2,94.5),(100.5,93.3),(102.7,93),
    (104.4,92.8),(112,92.8),(114.4,93.1),(131.5,93.2),(100.8,92),(102.1,91.3),(104.3,91),(107.5,92),(109.4,92),(111.8,92),
    (102.7,90.1),(104.8,90.2),(109.8,90.3),(112.4,90.5),(119.8,90.5),(100.8,89.3),(101.9,89.3),(107,89.3),(115.9,89.3),
    (120.2,87.8),(100.3,87.7),(106.2,87.3),(106.4,87),(109.5,86),(109.9,85.7),(127.1,85),(134.6,86),(100.3,85.7),(104.8,85),
    (100.3,84.3),(100.8,82.7),(102.5,82.1),(104.5,83),(107.6,83.2),(117.6,83.8),(121.2,82.2),(130.8,80.8),(101.6,80.7),(104.9,80),
    (107.8,79.8),(109,80.3),(111.3,80.7),(112.4,81.9),(113.5,80.7),(115.9,78.3),(103.2,79.2),(103.9,78.3),(104.8,77.3),(105.4,77.3),
    (104,75),(103.6,71.7),(104.4,71),(113.1,71.2),
    (99.6,105.8),(100.4,103.2),(99.7,99.8),(100.5,96.2),(99.1,94.1),(100.2,90.5),(99.4,88.2),(100.6,86.2),(99.2,110.5),(100.7,112.6),
    (100.2,116.2),(99.5,120.5),(98.3,103.6),(97.1,105.8),(96.2,100.3),(95.1,98.6),(97.6,95.8),(96.4,93.2),(94.1,95.8),(93.2,104.4),
    (92.1,106.2),(90.8,100.8),(89.4,98.9),(88.2,99.5),(87.1,104.8),(85.8,103.1),(84.6,97.8),(86.4,93.2),(89.5,91.7),(93,88.6),
    (97.2,87.5),(102.3,88.5),(103.8,92.7),(105.9,93.7),(106.4,97.3),(107.5,102.4),(108.7,105.5),(110.2,103.4),(111.7,101.2),
    (113.2,99.6),(111.2,96.1),(109.4,93.4),(112.8,106.8),(114.2,108.7),(116.3,106.1),(117.5,110.1),(118.6,112.4),(105.2,110.2),
    (104.3,107.3),(102.4,106.3),(103.1,101.1),(101.8,99.4),(105.1,100.8),(106.2,104.8),(104.7,112.6),(102.7,110.8),
]

panels = [mz_pts, dz_pts, pg_pts, fr_pts]

fig = plt.figure(figsize=(15.36, 14.2), dpi=100)
positions = [[0.0837, 0.5690, 0.4069, 0.3521],
             [0.5746, 0.5690, 0.4063, 0.3521],
             [0.0837, 0.0789, 0.4069, 0.3521],
             [0.5746, 0.0789, 0.4063, 0.3521]]

for i, pts in enumerate(panels):
    ax = fig.add_axes(positions[i])
    arr = np.array(pts)
    x, y = arr[:, 0], arr[:, 1]

    ax.set_axisbelow(True)
    ax.grid(True, color="#EBEBEB", linewidth=1.6)
    ax.axhline(100, color="#999999", linewidth=1.4, linestyle=(0, (4.5, 3)), zorder=1)
    ax.axvline(100, color="#999999", linewidth=1.4, linestyle=(0, (4.5, 3)), zorder=1)

    sns.scatterplot(x=x, y=y, ax=ax, color="#4D4D4D", alpha=0.35, s=38,
                    edgecolor="#4D4D4D", linewidth=0.8, zorder=2)

    # retta di regressione: passa per (100, 100) con pendenza r
    xs = np.array([x.min(), min(x.max(), 150)])
    ys = 100 + r_values[i] * (xs - 100)
    sns.lineplot(x=xs, y=ys, ax=ax, color="#990000", linewidth=2.8, zorder=3)

    ax.set_xlim(50, 150)
    ax.set_ylim(50, 150)
    ax.set_xticks(ticks)
    ax.set_yticks(ticks)
    for s in ax.spines.values():
        s.set_visible(False)
    ax.tick_params(length=0, labelsize=17.5, labelcolor="#4D4D4D", pad=10)
    ax.set_xlabel(x_labels[i], fontsize=23, labelpad=11, color="black")
    ax.set_ylabel(y_labels[i], fontsize=23, labelpad=6, color="black")
    ax.set_title(titles[i], loc="left", fontsize=23, pad=16, linespacing=1.05, color="black")

fig.savefig("out.png", dpi=100)
